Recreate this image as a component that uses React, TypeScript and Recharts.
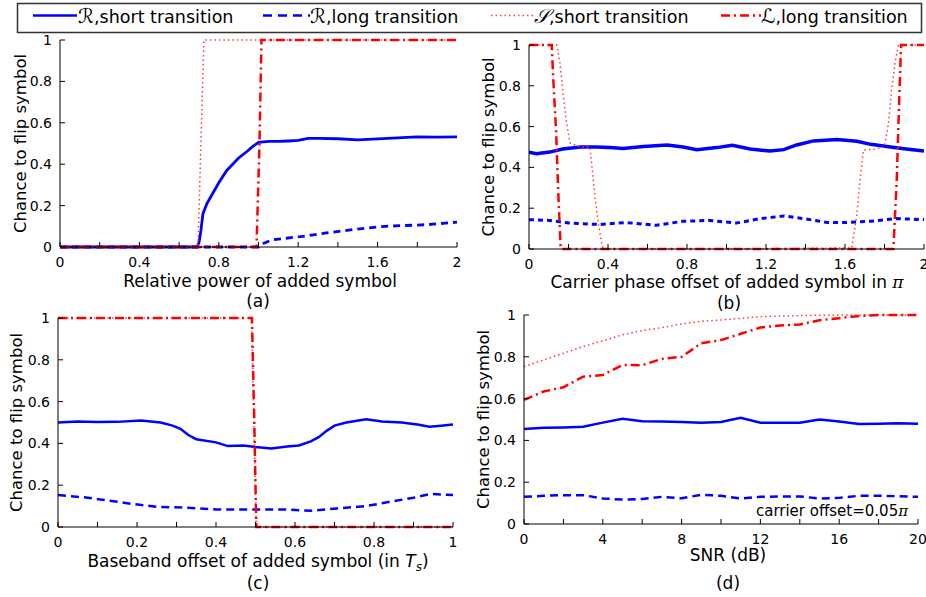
import { LineChart, Line, XAxis, YAxis } from "recharts";

const FONT = "'DejaVu Sans', sans-serif";

const BLUE = "#0000ff";
const RED = "#ff0000";
const PINK = "#ff3b3b";

const Y_TICKS = [0, 0.2, 0.4, 0.6, 0.8, 1];
const Y_TICK_LABELS = ["0", "0.2", "0.4", "0.6", "0.8", "1"];

// (a) relative power
const A_TICKS = [0, 0.2, 0.4, 0.6, 0.8, 1, 1.2, 1.4, 1.6, 1.8, 2];
const A_TICK_LABELS = ["0", "", "0.4", "", "0.8", "", "1.2", "", "1.6", "", "2"];
const A_RS_X = [0, 0.3, 0.6, 0.69, 0.7, 0.71, 0.72, 0.74, 0.77, 0.8, 0.84, 0.87, 0.9, 0.94, 0.97, 1.0, 1.05, 1.1, 1.15, 1.2, 1.25, 1.3, 1.4, 1.5, 1.6, 1.7, 1.8, 1.9, 2.0];
const A_RS_Y = [0, 0, 0, 0, 0.02, 0.08, 0.16, 0.21, 0.26, 0.31, 0.37, 0.4, 0.43, 0.46, 0.485, 0.505, 0.51, 0.51, 0.512, 0.515, 0.525, 0.525, 0.523, 0.518, 0.522, 0.527, 0.532, 0.531, 0.532];
const A_RL_X = [0, 0.5, 1.0, 1.01, 1.07, 1.21, 1.375, 1.51, 1.64, 1.85, 2.0];
const A_RL_Y = [0, 0, 0, 0.011, 0.035, 0.05, 0.072, 0.088, 0.1, 0.108, 0.12];
const A_SS_X = [0, 0.695, 0.71, 0.725, 2];
const A_SS_Y = [0, 0, 0.5, 1, 1];
const A_LL_X = [0, 0.99, 1.005, 1.015, 2];
const A_LL_Y = [0, 0, 0.5, 1, 1];

// (b) carrier phase offset
const B_RS_X = [0, 0.037, 0.105, 0.17, 0.26, 0.34, 0.41, 0.476, 0.58, 0.7, 0.78, 0.85, 0.95, 1.03, 1.12, 1.22, 1.29, 1.355, 1.44, 1.56, 1.66, 1.73, 1.83, 1.91, 2.0];
const B_RS_Y = [0.475, 0.467, 0.475, 0.49, 0.5, 0.5, 0.497, 0.493, 0.503, 0.51, 0.5, 0.487, 0.497, 0.508, 0.49, 0.48, 0.487, 0.51, 0.53, 0.537, 0.528, 0.513, 0.5, 0.49, 0.48];
const B_RL_X = [0, 0.105, 0.205, 0.36, 0.49, 0.645, 0.78, 0.915, 1.05, 1.17, 1.29, 1.39, 1.51, 1.61, 1.73, 1.86, 2.0];
const B_RL_Y = [0.144, 0.14, 0.127, 0.12, 0.13, 0.116, 0.136, 0.14, 0.127, 0.149, 0.162, 0.149, 0.13, 0.13, 0.136, 0.149, 0.144];
const B_SS_X = [0, 0.14, 0.157, 0.174, 0.19, 0.208, 0.26, 0.309, 0.317, 0.334, 0.351, 0.368, 0.375, 1.0, 1.634, 1.659, 1.676, 1.693, 1.75, 1.8, 1.82, 1.836, 1.853, 1.87, 2.0];
const B_SS_Y = [1, 1, 0.91, 0.747, 0.62, 0.52, 0.5, 0.5, 0.42, 0.256, 0.125, 0.03, 0, 0, 0.005, 0.16, 0.34, 0.485, 0.49, 0.5, 0.616, 0.78, 0.91, 1, 1];
const B_LL_X = [0, 0.115, 0.123, 0.137, 0.149, 0.16, 0.165, 1.0, 1.845, 1.862, 1.875, 1.884, 2.0];
const B_LL_Y = [1, 1, 0.83, 0.583, 0.256, 0.01, 0, 0, 0, 0.34, 0.747, 1, 1];

// (c) baseband offset
const C_TICKS = [0, 0.1, 0.2, 0.3, 0.4, 0.5, 0.6, 0.7, 0.8, 0.9, 1];
const C_TICK_LABELS = ["0", "", "0.2", "", "0.4", "", "0.6", "", "0.8", "", "1"];
const C_RS_X = [0, 0.05, 0.1, 0.15, 0.21, 0.26, 0.29, 0.31, 0.33, 0.35, 0.4, 0.43, 0.47, 0.5, 0.54, 0.58, 0.61, 0.64, 0.66, 0.68, 0.7, 0.73, 0.78, 0.82, 0.87, 0.91, 0.94, 0.97, 1.0];
const C_RS_Y = [0.5, 0.505, 0.502, 0.503, 0.51, 0.5, 0.485, 0.47, 0.44, 0.42, 0.405, 0.387, 0.39, 0.383, 0.376, 0.385, 0.39, 0.41, 0.43, 0.46, 0.485, 0.5, 0.515, 0.505, 0.5, 0.49, 0.48, 0.485, 0.49];
const C_RL_X = [0, 0.065, 0.107, 0.19, 0.25, 0.327, 0.4, 0.495, 0.57, 0.64, 0.706, 0.78, 0.85, 0.9, 0.943, 1.0];
const C_RL_Y = [0.153, 0.142, 0.132, 0.11, 0.097, 0.092, 0.084, 0.084, 0.084, 0.078, 0.089, 0.1, 0.124, 0.14, 0.158, 0.153];
const C_SS_X = [0, 0.49, 0.496, 0.502, 1];
const C_SS_Y = [1, 1, 0.5, 0, 0];
const C_LL_X = [0, 0.491, 0.497, 0.502, 1];
const C_LL_Y = [1, 1, 0.5, 0, 0];

// (d) SNR
const D_TICKS = [0, 2, 4, 6, 8, 10, 12, 14, 16, 18, 20];
const D_TICK_LABELS = ["0", "", "4", "", "8", "", "12", "", "16", "", "20"];
const D_SNR = [0, 1, 2, 3, 4, 5, 6, 7, 8, 9, 10, 11, 12, 13, 14, 15, 16, 17, 18, 19, 20];
const D_RS_Y = [0.454, 0.46, 0.462, 0.465, 0.485, 0.503, 0.492, 0.49, 0.488, 0.485, 0.488, 0.508, 0.485, 0.485, 0.485, 0.5, 0.49, 0.478, 0.48, 0.482, 0.48];
const D_RL_Y = [0.13, 0.135, 0.138, 0.138, 0.122, 0.117, 0.12, 0.13, 0.123, 0.14, 0.135, 0.122, 0.13, 0.132, 0.132, 0.122, 0.125, 0.135, 0.135, 0.133, 0.13];
const D_SS_Y = [0.753, 0.785, 0.817, 0.849, 0.877, 0.905, 0.925, 0.94, 0.957, 0.97, 0.976, 0.984, 0.992, 0.995, 0.997, 0.999, 1, 1, 1, 1, 1];
const D_LL_Y = [0.594, 0.634, 0.654, 0.705, 0.713, 0.761, 0.76, 0.79, 0.8, 0.865, 0.88, 0.91, 0.94, 0.95, 0.955, 0.975, 0.985, 0.995, 1, 1, 1];

const zip = (xs: number[], ys: number[]) => xs.map((x, i) => ({ x, y: ys[i] }));

type Series = { data: { x: number; y: number }[]; color: string; dash?: string; width: number };

const styles = {
  rs: (w: number) => ({ color: BLUE, width: w }),
  rl: (w: number, dash = "8 5") => ({ color: BLUE, width: w, dash }),
  ss: { color: PINK, width: 1.5, dash: "1.5 3" },
  ll: { color: RED, width: 2.5, dash: "9 4 2 4" },
};

interface PanelProps {
  left: number;
  top: number;
  width: number;
  height: number;
  margin: { top: number; right: number; left: number; bottom: number };
  yWidth: number;
  yTitleX: number;
  xDomain: [number, number];
  xTicks: number[];
  xLabels: string[];
  series: Series[];
}

function Panel(p: PanelProps) {
  const tickStyle = { fill: "#000", fontSize: 14, fontFamily: FONT };
  return (
    <div style={{ position: "absolute", left: p.left, top: p.top }}>
      <LineChart width={p.width} height={p.height} margin={p.margin} style={{ overflow: "visible" }}>
        <XAxis
          xAxisId="b"
          type="number"
          dataKey="x"
          domain={p.xDomain}
          ticks={p.xTicks}
          interval={0}
          allowDataOverflow
          height={53}
          tickSize={-5}
          tickMargin={15}
          tickFormatter={(v: number) => p.xLabels[p.xTicks.indexOf(v)] ?? ""}
          tick={tickStyle}
          stroke="#000"
        />
        <XAxis
          xAxisId="t"
          orientation="top"
          type="number"
          dataKey="x"
          domain={p.xDomain}
          ticks={p.xTicks}
          interval={0}
          allowDataOverflow
          height={0}
          tickSize={-5}
          tickFormatter={() => ""}
          stroke="#000"
        />
        <YAxis
          yAxisId="l"
          type="number"
          domain={[0, 1]}
          ticks={Y_TICKS}
          interval={0}
          width={p.yWidth}
          tickSize={-5}
          tickMargin={13}
          tickFormatter={(v: number) => Y_TICK_LABELS[Y_TICKS.indexOf(v)] ?? ""}
          tick={tickStyle}
          stroke="#000"
          label={{
            value: "Chance to flip symbol",
            angle: -90,
            position: "insideLeft",
            offset: p.yTitleX,
            style: { textAnchor: "middle", fontSize: 16.5, fontFamily: FONT, fill: "#000" },
          }}
        />
        <YAxis
          yAxisId="r"
          orientation="right"
          type="number"
          domain={[0, 1]}
          ticks={Y_TICKS}
          interval={0}
          width={0}
          tickSize={-5}
          tickFormatter={() => ""}
          stroke="#000"
        />
        {p.series.map((s, i) => (
          <Line
            key={i}
            xAxisId="b"
            yAxisId="l"
            data={s.data}
            dataKey="y"
            type="linear"
            stroke={s.color}
            strokeWidth={s.width}
            strokeDasharray={s.dash}
            dot={false}
            activeDot={false}
            isAnimationActive={false}
          />
        ))}
      </LineChart>
    </div>
  );
}

function Caption({ x, y, children, size = 17 }: { x: number; y: number; children: any; size?: number }) {
  return (
    <div
      style={{
        position: "absolute",
        left: x,
        top: y,
        transform: "translate(-50%, -50%)",
        fontFamily: FONT,
        fontSize: size,
        lineHeight: 0.9,
        whiteSpace: "nowrap",
        color: "#000",
      }}
    >
      {children}
    </div>
  );
}

function Legend() {
  const items = [
    { x1: 33, x2: 77, tx: 78, sym: "\u211B", rest: ",short transition", color: BLUE, w: 2.5, dash: undefined },
    { x1: 263, x2: 310, tx: 310, sym: "\u211B", rest: ",long transition", color: BLUE, w: 2.5, dash: "9 6" },
    { x1: 491, x2: 534, tx: 534, sym: "\uD835\uDCAE", rest: ",short transition", color: PINK, w: 1.5, dash: "1.5 3" },
    { x1: 721, x2: 761, tx: 761, sym: "\u2112", rest: ",long transition", color: RED, w: 2.5, dash: "9 4 2 4" },
  ];
  return (
    <svg width={926} height={36} style={{ position: "absolute", left: 0, top: 0 }}>
      <rect x={17.5} y={3.5} width={904} height={29} fill="#fff" stroke="#333" strokeWidth={1.5} />
      {items.map((it, i) => (
        <g key={i}>
          <line x1={it.x1} x2={it.x2} y1={15.5} y2={15.5} stroke={it.color} strokeWidth={it.w} strokeDasharray={it.dash} />
          <text x={it.tx} y={23} fontFamily={FONT} fontSize={17.5} fill="#000">
            <tspan fontStyle="italic" fontSize={20}>{it.sym}</tspan>
            {it.rest}
          </text>
        </g>
      ))}
    </svg>
  );
}

export default function App() {
  return (
    <div style={{ position: "absolute", left: 0, top: 0, width: 926, height: 597, background: "#fff", overflow: "hidden" }}>
      <Legend />
      <Panel
        left={0}
        top={33}
        width={470}
        height={267}
        margin={{ top: 7, right: 13, left: 0, bottom: 0 }}
        yWidth={60}
        yTitleX={20}
        xDomain={[0, 2]}
        xTicks={A_TICKS}
        xLabels={A_TICK_LABELS}
        series={[
          { data: zip(A_RS_X, A_RS_Y), ...styles.rs(2.8) },
          { data: zip(A_RL_X, A_RL_Y), ...styles.rl(2.8, "7 5") },
          { data: zip(A_SS_X, A_SS_Y), ...styles.ss },
          { data: zip(A_LL_X, A_LL_Y), ...styles.ll },
        ]}
      />
      <Panel
        left={470}
        top={34}
        width={456}
        height={268}
        margin={{ top: 11, right: 2, left: 0, bottom: 0 }}
        yWidth={59}
        yTitleX={18}
        xDomain={[0, 2]}
        xTicks={A_TICKS}
        xLabels={A_TICK_LABELS}
        series={[
          { data: zip(B_RS_X, B_RS_Y), ...styles.rs(3.5) },
          { data: zip(B_RL_X, B_RL_Y), ...styles.rl(3, "5 4") },
          { data: zip(B_SS_X, B_SS_Y), ...styles.ss },
          { data: zip(B_LL_X, B_LL_Y), ...styles.ll },
        ]}
      />
      <Panel
        left={0}
        top={305}
        width={470}
        height={275}
        margin={{ top: 13, right: 17, left: 0, bottom: 0 }}
        yWidth={58}
        yTitleX={16}
        xDomain={[0, 1]}
        xTicks={C_TICKS}
        xLabels={C_TICK_LABELS}
        series={[
          { data: zip(C_RS_X, C_RS_Y), ...styles.rs(2.5) },
          { data: zip(C_RL_X, C_RL_Y), ...styles.rl(2.5) },
          { data: zip(C_SS_X, C_SS_Y), ...styles.ss },
          { data: zip(C_LL_X, C_LL_Y), ...styles.ll },
        ]}
      />
      <Panel
        left={470}
        top={302}
        width={456}
        height={275}
        margin={{ top: 13, right: 8, left: 0, bottom: 0 }}
        yWidth={54}
        yTitleX={13}
        xDomain={[0, 20]}
        xTicks={D_TICKS}
        xLabels={D_TICK_LABELS}
        series={[
          { data: zip(D_SNR, D_RS_Y), ...styles.rs(2.5) },
          { data: zip(D_SNR, D_RL_Y), ...styles.rl(2.5) },
          { data: zip(D_SNR, D_SS_Y), ...styles.ss },
          { data: zip(D_SNR, D_LL_Y), ...styles.ll },
        ]}
      />
      <Caption x={260} y={282}>Relative power of added symbol</Caption>
      <Caption x={258} y={302}>(a)</Caption>
      <Caption x={727} y={283}>
        Carrier phase offset of added symbol in <span style={{ fontFamily: "'DejaVu Serif', serif", fontStyle: "italic" }}>π</span>
      </Caption>
      <Caption x={729} y={304}>(b)</Caption>
      <Caption x={258} y={563}>
        Baseband offset of added symbol (in <i>T</i>
        <sub style={{ fontSize: 12, fontStyle: "italic", verticalAlign: -4 }}>s</sub>)
      </Caption>
      <Caption x={258} y={584}>(c)</Caption>
      <Caption x={728} y={556}>SNR (dB)</Caption>
      <Caption x={728} y={584}>(d)</Caption>
      <Caption x={832} y={512} size={15}>
        carrier offset=0.05<span style={{ fontFamily: "'DejaVu Serif', serif", fontStyle: "italic" }}>π</span>
      </Caption>
    </div>
  );
}
